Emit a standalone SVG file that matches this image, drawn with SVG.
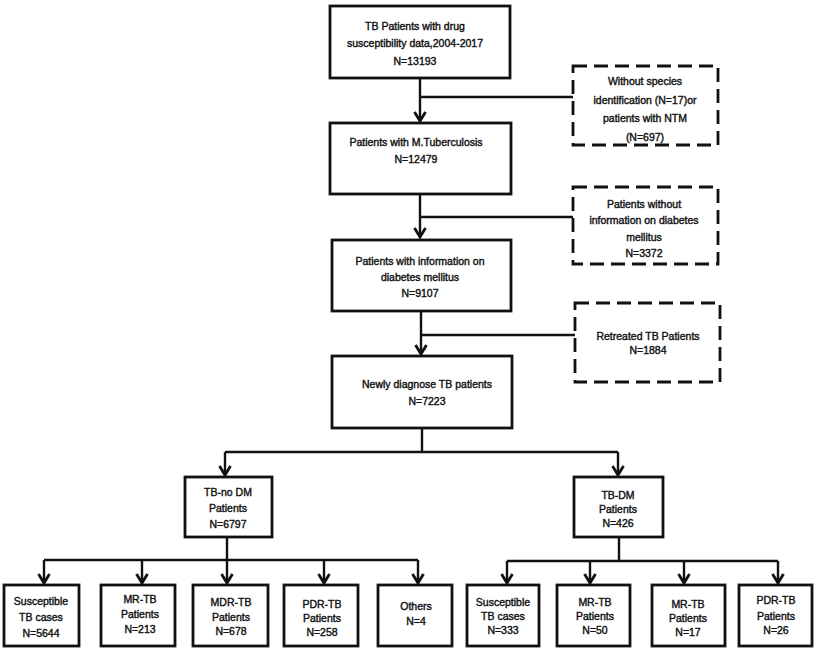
<svg xmlns="http://www.w3.org/2000/svg" width="819" height="648" viewBox="0 0 819 648">
<style>
.box{fill:#fff;stroke:#111;stroke-width:2.8}
.dbox{fill:#fff;stroke:#111;stroke-width:2.8;stroke-dasharray:14 7}
.ln{fill:none;stroke:#111;stroke-width:2.4}
text{font-family:"Liberation Sans",Arial,sans-serif;font-size:10.5px;fill:#111;stroke:#111;stroke-width:0.4;text-anchor:middle}
</style>
<defs>
<marker id="arr" markerUnits="userSpaceOnUse" markerWidth="14" markerHeight="14" viewBox="0 0 14 14" refX="11" refY="7" orient="auto">
<path d="M2,1.5 L11,7 L2,12.5" fill="none" stroke="#111" stroke-width="2.8"/>
</marker>
</defs>
<rect width="819" height="648" fill="#fff"/>
<g id="connectors">
<path class="ln" d="M420,78 V121" marker-end="url(#arr)"/>
<path class="ln" d="M420,97 H573"/>
<path class="ln" d="M420,194 V237" marker-end="url(#arr)"/>
<path class="ln" d="M420,217 H573"/>
<path class="ln" d="M421,311 V354" marker-end="url(#arr)"/>
<path class="ln" d="M421,335 H575"/>
<path class="ln" d="M422,428 V452"/>
<path class="ln" d="M225,452 H618"/>
<path class="ln" d="M225,452 V475" marker-end="url(#arr)"/>
<path class="ln" d="M618,452 V475" marker-end="url(#arr)"/>
<path class="ln" d="M227,537 V560"/>
<path class="ln" d="M44,560 H418"/>
<path class="ln" d="M44,560 V583" marker-end="url(#arr)"/>
<path class="ln" d="M142,560 V583" marker-end="url(#arr)"/>
<path class="ln" d="M227,560 V583" marker-end="url(#arr)"/>
<path class="ln" d="M324,560 V583" marker-end="url(#arr)"/>
<path class="ln" d="M418,560 V583" marker-end="url(#arr)"/>
<path class="ln" d="M619,537 V561"/>
<path class="ln" d="M507,561 H778"/>
<path class="ln" d="M507,561 V583" marker-end="url(#arr)"/>
<path class="ln" d="M590,561 V583" marker-end="url(#arr)"/>
<path class="ln" d="M684,561 V583" marker-end="url(#arr)"/>
<path class="ln" d="M778,561 V583" marker-end="url(#arr)"/>
</g>
<g id="n-top">
<rect class="box" x="330" y="6" width="180" height="72"/>
<text x="415" y="30">TB Patients with drug</text>
<text x="415" y="47">susceptibility data,2004-2017</text>
<text x="415" y="65">N=13193</text>
</g>
<g id="n-excl1">
<rect class="dbox" x="573" y="66" width="145" height="79"/>
<text x="645" y="85">Without species</text>
<text x="645" y="104">identification (N=17)or</text>
<text x="645" y="122">patients with NTM</text>
<text x="645" y="141">(N=697)</text>
</g>
<g id="n-mtb">
<rect class="box" x="330" y="123" width="181" height="71"/>
<text x="416" y="146">Patients with M.Tuberculosis</text>
<text x="416" y="163">N=12479</text>
</g>
<g id="n-excl2">
<rect class="dbox" x="573" y="187" width="145" height="77"/>
<text x="644" y="208">Patients without</text>
<text x="644" y="224">information on diabetes</text>
<text x="644" y="241">mellitus</text>
<text x="644" y="257">N=3372</text>
</g>
<g id="n-dm">
<rect class="box" x="332" y="240" width="179" height="71"/>
<text x="420" y="265">Patients with information on</text>
<text x="420" y="281">diabetes mellitus</text>
<text x="420" y="297">N=9107</text>
</g>
<g id="n-excl3">
<rect class="dbox" x="575" y="303" width="145" height="79"/>
<text x="648" y="340">Retreated TB Patients</text>
<text x="648" y="354">N=1884</text>
</g>
<g id="n-new">
<rect class="box" x="332" y="356" width="180" height="72"/>
<text x="427" y="388">Newly diagnose TB patients</text>
<text x="427" y="405">N=7223</text>
</g>
<g id="n-nodm">
<rect class="box" x="185" y="477" width="87" height="60"/>
<text x="228" y="496">TB-no DM</text>
<text x="228" y="512">Patients</text>
<text x="228" y="528">N=6797</text>
</g>
<g id="n-tbdm">
<rect class="box" x="574" y="477" width="89" height="60"/>
<text x="618" y="499">TB-DM</text>
<text x="618" y="513">Patients</text>
<text x="618" y="527">N=426</text>
</g>
<g id="n-a">
<rect class="box" x="4" y="585" width="75" height="61"/>
<text x="41" y="605">Susceptible</text>
<text x="41" y="621">TB cases</text>
<text x="41" y="637">N=5644</text>
</g>
<g id="n-b">
<rect class="box" x="101" y="585" width="74" height="61"/>
<text x="140" y="603">MR-TB</text>
<text x="140" y="618">Patients</text>
<text x="140" y="633">N=213</text>
</g>
<g id="n-c">
<rect class="box" x="193" y="585" width="75" height="61"/>
<text x="231" y="606">MDR-TB</text>
<text x="231" y="621">Patients</text>
<text x="231" y="635">N=678</text>
</g>
<g id="n-d">
<rect class="box" x="284" y="585" width="74" height="61"/>
<text x="322" y="608">PDR-TB</text>
<text x="322" y="622">Patients</text>
<text x="322" y="636">N=258</text>
</g>
<g id="n-e">
<rect class="box" x="378" y="585" width="74" height="61"/>
<text x="416" y="610">Others</text>
<text x="416" y="625">N=4</text>
</g>
<g id="n-f">
<rect class="box" x="467" y="585" width="72" height="61"/>
<text x="503" y="606">Susceptible</text>
<text x="503" y="620">TB cases</text>
<text x="503" y="634">N=333</text>
</g>
<g id="n-g">
<rect class="box" x="557" y="585" width="73" height="61"/>
<text x="595" y="606">MR-TB</text>
<text x="595" y="620">Patients</text>
<text x="595" y="634">N=50</text>
</g>
<g id="n-h">
<rect class="box" x="652" y="585" width="73" height="61"/>
<text x="688" y="608">MR-TB</text>
<text x="688" y="622">Patients</text>
<text x="688" y="636">N=17</text>
</g>
<g id="n-i">
<rect class="box" x="739" y="585" width="73" height="61"/>
<text x="776" y="604">PDR-TB</text>
<text x="776" y="620">Patients</text>
<text x="776" y="634">N=26</text>
</g>
</svg>
